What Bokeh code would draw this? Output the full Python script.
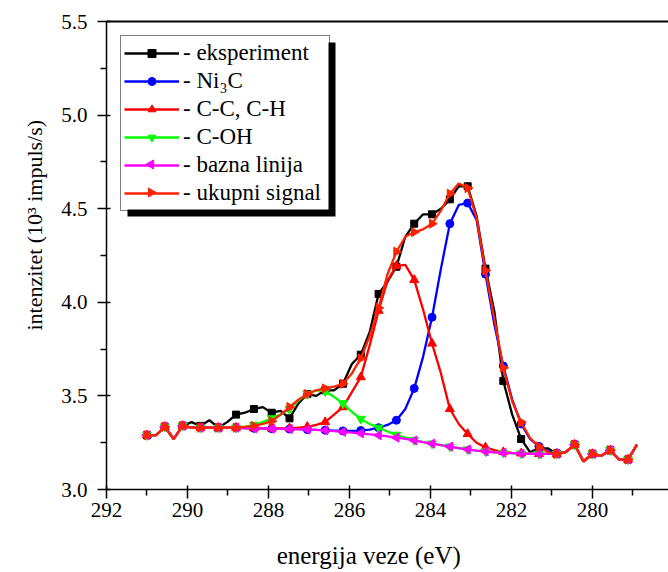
import math
from bokeh.plotting import figure
from bokeh.models import (Range1d, LinearAxis, Legend, LegendItem, BoxAnnotation,
                          FixedTicker, PrintfTickFormatter, ColumnDataSource, Scatter)
from bokeh.embed import file_html
from bokeh.resources import INLINE

# ---------------- data ----------------
energies = [291.00, 290.78, 290.56, 290.34, 290.12, 289.90, 289.68, 289.46, 289.24, 289.02,
            288.80, 288.58, 288.36, 288.14, 287.92, 287.70, 287.48, 287.26, 287.04, 286.82,
            286.60, 286.38, 286.16, 285.94, 285.72, 285.50, 285.28, 285.06, 284.84, 284.62,
            284.40, 284.18, 283.96, 283.74, 283.52, 283.30, 283.08, 282.86, 282.64, 282.42,
            282.20, 281.98, 281.76, 281.54, 281.32, 281.10, 280.88, 280.66, 280.44, 280.22,
            280.00, 279.78, 279.56, 279.34, 279.12, 278.90]

eksperiment = [3.29, 3.29, 3.335, 3.27, 3.34, 3.36, 3.34, 3.37, 3.33, 3.36,
               3.40, 3.41, 3.43, 3.44, 3.41, 3.42, 3.38, 3.46, 3.51, 3.50,
               3.53, 3.53, 3.565, 3.67, 3.72, 3.84, 4.045, 4.11, 4.19, 4.35,
               4.42, 4.47, 4.47, 4.50, 4.55, 4.62, 4.62, 4.46, 4.18, 3.95,
               3.58, 3.40, 3.27, 3.20, 3.22, 3.22, 3.19, 3.20, 3.24, 3.15,
               3.19, 3.18, 3.21, 3.16, 3.16, 3.24]

ni3c = [3.29, 3.29, 3.335, 3.27, 3.34, 3.33, 3.33, 3.33, 3.33, 3.33,
        3.33, 3.328, 3.327, 3.326, 3.325, 3.324, 3.323, 3.322, 3.32, 3.318,
        3.317, 3.315, 3.313, 3.313, 3.315, 3.32, 3.33, 3.345, 3.37, 3.43,
        3.54, 3.71, 3.92, 4.18, 4.42, 4.52, 4.53, 4.44, 4.15, 3.88,
        3.66, 3.48, 3.35, 3.27, 3.23, 3.205, 3.195, 3.20, 3.24, 3.15,
        3.19, 3.18, 3.21, 3.16, 3.16, 3.24]

cc_ch = [3.29, 3.29, 3.335, 3.27, 3.34, 3.33, 3.33, 3.33, 3.33, 3.33,
         3.33, 3.328, 3.327, 3.326, 3.326, 3.326, 3.327, 3.33, 3.335, 3.345,
         3.36, 3.40, 3.44, 3.52, 3.60, 3.77, 3.955, 4.115, 4.195, 4.20,
         4.12, 3.96, 3.78, 3.62, 3.43, 3.35, 3.297, 3.25, 3.225, 3.21,
         3.20, 3.196, 3.193, 3.191, 3.19, 3.19, 3.19, 3.20, 3.24, 3.15,
         3.19, 3.18, 3.21, 3.16, 3.16, 3.24]

c_oh = [3.29, 3.29, 3.335, 3.27, 3.34, 3.33, 3.33, 3.33, 3.33, 3.33,
        3.33, 3.335, 3.345, 3.36, 3.38, 3.40, 3.43, 3.475, 3.51, 3.53,
        3.525, 3.495, 3.46, 3.415, 3.377, 3.35, 3.33, 3.31, 3.292, 3.277,
        3.264, 3.253, 3.245, 3.237, 3.229, 3.221, 3.214, 3.208, 3.203, 3.199,
        3.196, 3.194, 3.192, 3.191, 3.19, 3.19, 3.19, 3.20, 3.24, 3.15,
        3.19, 3.18, 3.21, 3.16, 3.16, 3.24]

bazna = [3.29, 3.29, 3.335, 3.27, 3.34, 3.33, 3.33, 3.33, 3.33, 3.33,
         3.33, 3.328, 3.327, 3.326, 3.325, 3.324, 3.323, 3.322, 3.32, 3.318,
         3.316, 3.312, 3.308, 3.304, 3.30, 3.295, 3.29, 3.284, 3.277, 3.27,
         3.262, 3.253, 3.245, 3.237, 3.229, 3.221, 3.214, 3.208, 3.203, 3.199,
         3.196, 3.194, 3.192, 3.191, 3.19, 3.19, 3.19, 3.20, 3.24, 3.15,
         3.19, 3.18, 3.21, 3.16, 3.16, 3.24]

ukupni = [3.29, 3.29, 3.335, 3.27, 3.34, 3.33, 3.33, 3.33, 3.33, 3.33,
          3.33, 3.335, 3.34, 3.35, 3.365, 3.40, 3.44, 3.48, 3.51, 3.53,
          3.54, 3.55, 3.565, 3.62, 3.70, 3.82, 3.97, 4.15, 4.27, 4.35,
          4.375, 4.39, 4.42, 4.49, 4.58, 4.635, 4.61, 4.45, 4.17, 3.91,
          3.65, 3.47, 3.36, 3.275, 3.23, 3.20, 3.19, 3.20, 3.24, 3.15,
          3.19, 3.18, 3.21, 3.16, 3.16, 3.24]

x_ticks = [292, 290, 288, 286, 284, 282, 280]
x_minor = [291, 289, 287, 285, 283, 281, 279]
y_ticks = [3.0, 3.5, 4.0, 4.5, 5.0, 5.5]
y_minor = [3.25, 3.75, 4.25, 4.75, 5.25]

labels = ["- eksperiment", "- Ni\u2083C", "- C-C, C-H", "- C-OH", "- bazna linija", "- ukupni signal"]
x_title = "energija veze (eV)"
y_title = "intenzitet (10\u00b3 impuls/s)"

# ---------------- figure ----------------
W, H = 668, 572
BL, BR, BT, BB = 106, 0, 21, 83
X0, X1 = 292.0, 278.12
Y0, Y1 = 3.0, 5.5
FW = W - BL - BR
FH = H - BT - BB

p = figure(width=W, height=H, output_backend="svg", toolbar_location=None,
           x_range=Range1d(X0, X1), y_range=Range1d(Y0, Y1),
           min_border_left=BL, min_border_right=BR, min_border_top=BT, min_border_bottom=BB)
p.outline_line_color = None
p.xgrid.visible = False
p.ygrid.visible = False
p.background_fill_color = "white"

FONT = "Liberation Serif"
for ax in (p.xaxis[0], p.yaxis[0]):
    ax.axis_line_width = 1.5
    ax.axis_line_color = "black"
    ax.major_tick_line_width = 1.5
    ax.minor_tick_line_width = 1.5
    ax.major_tick_out = 9
    ax.major_tick_in = 4
    ax.minor_tick_out = 6
    ax.minor_tick_in = 0
    ax.major_label_text_font = FONT
    ax.major_label_text_font_size = "21px"
    ax.major_label_text_color = "black"
    ax.axis_label_text_font = FONT
    ax.axis_label_text_font_style = "normal"
    ax.axis_label_text_color = "black"
p.xaxis.axis_label_text_font_size = "25px"
p.yaxis.axis_label_text_font_size = "22px"

NB = "\u00a0"
p.xaxis.ticker = FixedTicker(ticks=x_ticks, minor_ticks=x_minor)
p.yaxis.ticker = FixedTicker(ticks=y_ticks, minor_ticks=y_minor)
p.yaxis.formatter = PrintfTickFormatter(format="%.1f")
p.xaxis.axis_label = x_title + NB * 6
p.yaxis.axis_label = NB * 11 + y_title
p.xaxis.major_label_standoff = 4
p.yaxis.major_label_standoff = 10
p.xaxis.axis_label_standoff = 22
p.yaxis.axis_label_standoff = 11

top_axis = LinearAxis(ticker=FixedTicker(ticks=[]), major_tick_line_color=None,
                      minor_tick_line_color=None, major_tick_out=0, minor_tick_out=0,
                      major_label_standoff=0, axis_line_width=2, axis_line_color="black")
p.add_layout(top_axis, "above")

# pixel <-> data helpers (frame-relative pixels, y measured from the top)
KX = (X0 - X1) / FW   # eV per pixel
KY = (Y1 - Y0) / FH   # intensity units per pixel


def px_to_x(px):
    return X0 - KX * px


def py_to_y(py):
    return Y1 - KY * py


def side_triangles(xs, ys, direction, r):
    """Left (-1) or right (+1) pointing triangle outlines around each point."""
    px_list, py_list = [], []
    for x, y in zip(xs, ys):
        apex = x - direction * r * KX
        base = x + direction * 0.5 * r * KX
        px_list.append([apex, base, base])
        py_list.append([y, y + 0.87 * r * KY, y - 0.87 * r * KY])
    return px_list, py_list


# legend geometry (frame-relative pixels)
LM = 14
PAD = 3
GW = 55
LSO = 4
LABW = 143
ROWH = 28
LW = 2 * PAD + GW + LSO + LABW
LH = 2 * PAD + 6 * ROWH
SH = 7

# legend shadow + white legend background, layered beneath the glyphs
shadow = BoxAnnotation(left=px_to_x(LM + SH), right=px_to_x(LM + LW + SH),
                       top=py_to_y(LM + SH), bottom=py_to_y(LM + LH + SH),
                       fill_color="black", fill_alpha=1.0, line_color=None, level="underlay")
p.add_layout(shadow)
legend_bg = BoxAnnotation(left=px_to_x(LM), right=px_to_x(LM + LW),
                          top=py_to_y(LM), bottom=py_to_y(LM + LH),
                          fill_color="white", fill_alpha=1.0, line_color=None, level="underlay")
p.add_layout(legend_bg)

series = [
    (eksperiment, "black", "square", 7),
    (ni3c, "#0000ff", "circle", 8),
    (cc_ch, "#ff0000", "triangle", 9),
    (c_oh, "#00ff00", "inverted_triangle", 9),
    (bazna, "#ff00ff", "left", 5.2),
    (ukupni, "#ff2200", "right", 5.2),
]

LINE_W = 2.3
items = []
gx = LM + PAD + GW / 2.0
for row, ((vals, col, mk, sz), lab) in enumerate(zip(series, labels)):
    ln = p.line(energies, vals, line_color=col, line_width=LINE_W)
    mx, my = energies[::2], vals[::2]
    if mk in ("left", "right"):
        d = -1 if mk == "left" else 1
        tx, ty = side_triangles(mx, my, d, sz)
        p.patches(tx, ty, fill_color=col, line_color=col, line_width=1)
        items.append(LegendItem(label=lab, renderers=[ln]))
        # the matching marker in the legend row
        gy = LM + PAD + ROWH * (row + 0.5)
        lx, ly = side_triangles([px_to_x(gx)], [py_to_y(gy)], d, sz)
        p.patches(lx, ly, fill_color=col, line_color=col, line_width=1)
    else:
        src = ColumnDataSource(dict(x=mx, y=my))
        sc = p.add_glyph(src, Scatter(x="x", y="y", marker=mk, size=sz,
                                      fill_color=col, line_color=col))
        items.append(LegendItem(label=lab, renderers=[ln, sc]))

legend = Legend(items=items, location="top_left", margin=LM, padding=PAD, spacing=0,
                glyph_width=GW, glyph_height=20, label_standoff=LSO, label_height=ROWH,
                label_width=LABW,
                label_text_font=FONT, label_text_font_size="23px",
                label_text_color="black",
                border_line_color="black", border_line_width=1,
                background_fill_color="white", background_fill_alpha=0.0)
p.add_layout(legend)

open("out.html", "w").write(file_html(p, INLINE))
